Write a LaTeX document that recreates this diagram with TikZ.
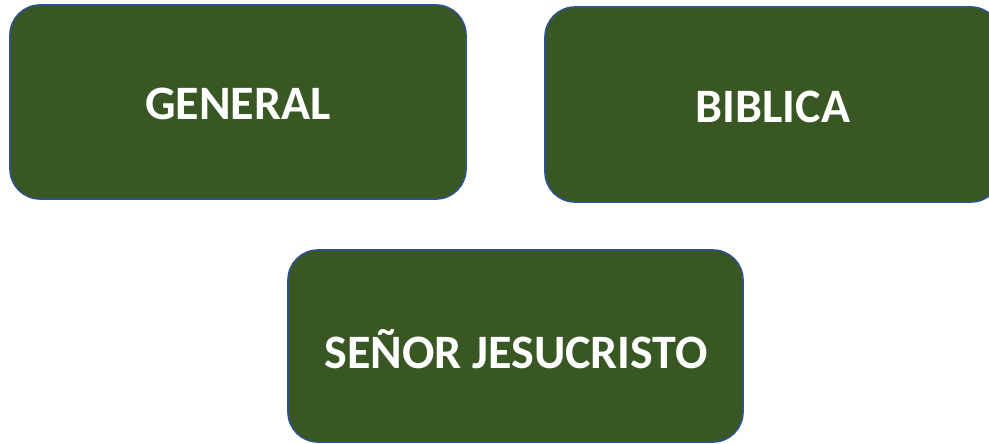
\documentclass[tikz,border=0pt]{standalone}
\usepackage{fontspec}
\setmainfont{Carlito}
\begin{document}
\begin{tikzpicture}[x=1pt,y=-1pt,
  box/.style={draw=boxblue, line width=1.6pt, fill=boxgreen, rounded corners=30pt},
  lbl/.style={text=white, font=\fontsize{48}{52}\selectfont\bfseries, inner sep=0pt}]
\definecolor{boxgreen}{HTML}{385723}
\definecolor{boxblue}{HTML}{2F528F}
\useasboundingbox (0,0) rectangle (989,444);
\begin{scope}
\clip (0,0) rectangle (989,444);
\draw[box] (10,5) rectangle (466,199);
\draw[box] (545,7) rectangle (1001,202);
\draw[box] (288,250) rectangle (743,442);
\end{scope}
\node[lbl] (g) at (238,104) {GENERAL};
\node[lbl] (b) at (773,107) {BIBLICA};
\node[lbl] (s) at (516,349) {SEÑOR JESUCRISTO};
\end{tikzpicture}
\end{document}
